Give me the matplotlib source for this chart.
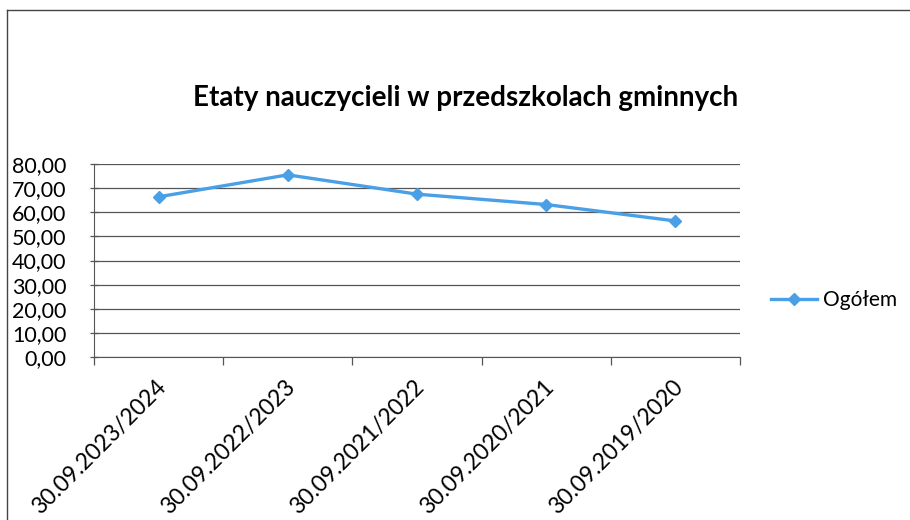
import numpy as np
import matplotlib.pyplot as plt
from matplotlib.lines import Line2D

plt.rcParams['font.family'] = ['Lato', 'DejaVu Sans']

# data
categories = ['30.09.2023/2024', '30.09.2022/2023', '30.09.2021/2022',
              '30.09.2020/2021', '30.09.2019/2020']
values = [66.4, 75.5, 67.5, 63.2, 56.4]
series_name = 'Ogółem'
title = 'Etaty nauczycieli w przedszkolach gminnych'
line_color = '#4aa0e6'

fig = plt.figure(figsize=(9.1, 5.2), dpi=100)
ax = fig.add_axes([94 / 910, 1 - 357 / 520, (740 - 94) / 910, (357 - 164) / 520])

x = np.arange(len(categories))
ax.plot(x, values, color=line_color, lw=2.4, marker='D', ms=6.5,
        mfc=line_color, mec=line_color)

ax.set_xlim(-0.5, len(categories) - 0.5)
ax.set_ylim(0, 80)
ax.set_yticks(np.arange(0, 81, 10))
ax.set_yticklabels([f'{v:.2f}'.replace('.', ',') for v in range(0, 81, 10)])
ax.yaxis.grid(True, color='#555555', lw=0.9)
ax.set_axisbelow(True)

# category boundary ticks
ax.set_xticks(np.arange(-0.5, len(categories), 1))
ax.set_xticklabels([])
ax.tick_params(axis='x', length=6, width=0.9, color='#555555')
ax.tick_params(axis='y', direction='inout', length=6, width=0.9,
               color='#555555', labelsize=15.5, pad=17)
for i, lab in enumerate(categories):
    ax.annotate(lab, xy=(i, 0), xycoords=('data', 'axes fraction'),
                xytext=(3, -19), textcoords='offset points',
                rotation=45, ha='right', va='center', rotation_mode='anchor',
                fontsize=16.5)

for s in ['top', 'right']:
    ax.spines[s].set_visible(False)
ax.spines['left'].set_color('#555555')
ax.spines['bottom'].set_color('#555555')

fig.text(466 / 910, 1 - 98 / 520, title, ha='center', va='center',
         fontsize=20, fontweight='bold')

handle = Line2D([], [], color=line_color, lw=2.4, marker='D', ms=6.5)
fig.legend([handle], [series_name], loc='center left',
           bbox_to_anchor=(752 / 910, 1 - 300 / 520), frameon=False,
           fontsize=15, handlelength=2.2, handletextpad=0.3)

# outer chart frame (cut off on right and bottom)
fig.add_artist(Line2D([7 / 910, 1], [1 - 10 / 520, 1 - 10 / 520],
                      transform=fig.transFigure, color='#444444', lw=1))
fig.add_artist(Line2D([7 / 910, 7 / 910], [0, 1 - 10 / 520],
                      transform=fig.transFigure, color='#444444', lw=1))

fig.savefig('out.png', dpi=100)
